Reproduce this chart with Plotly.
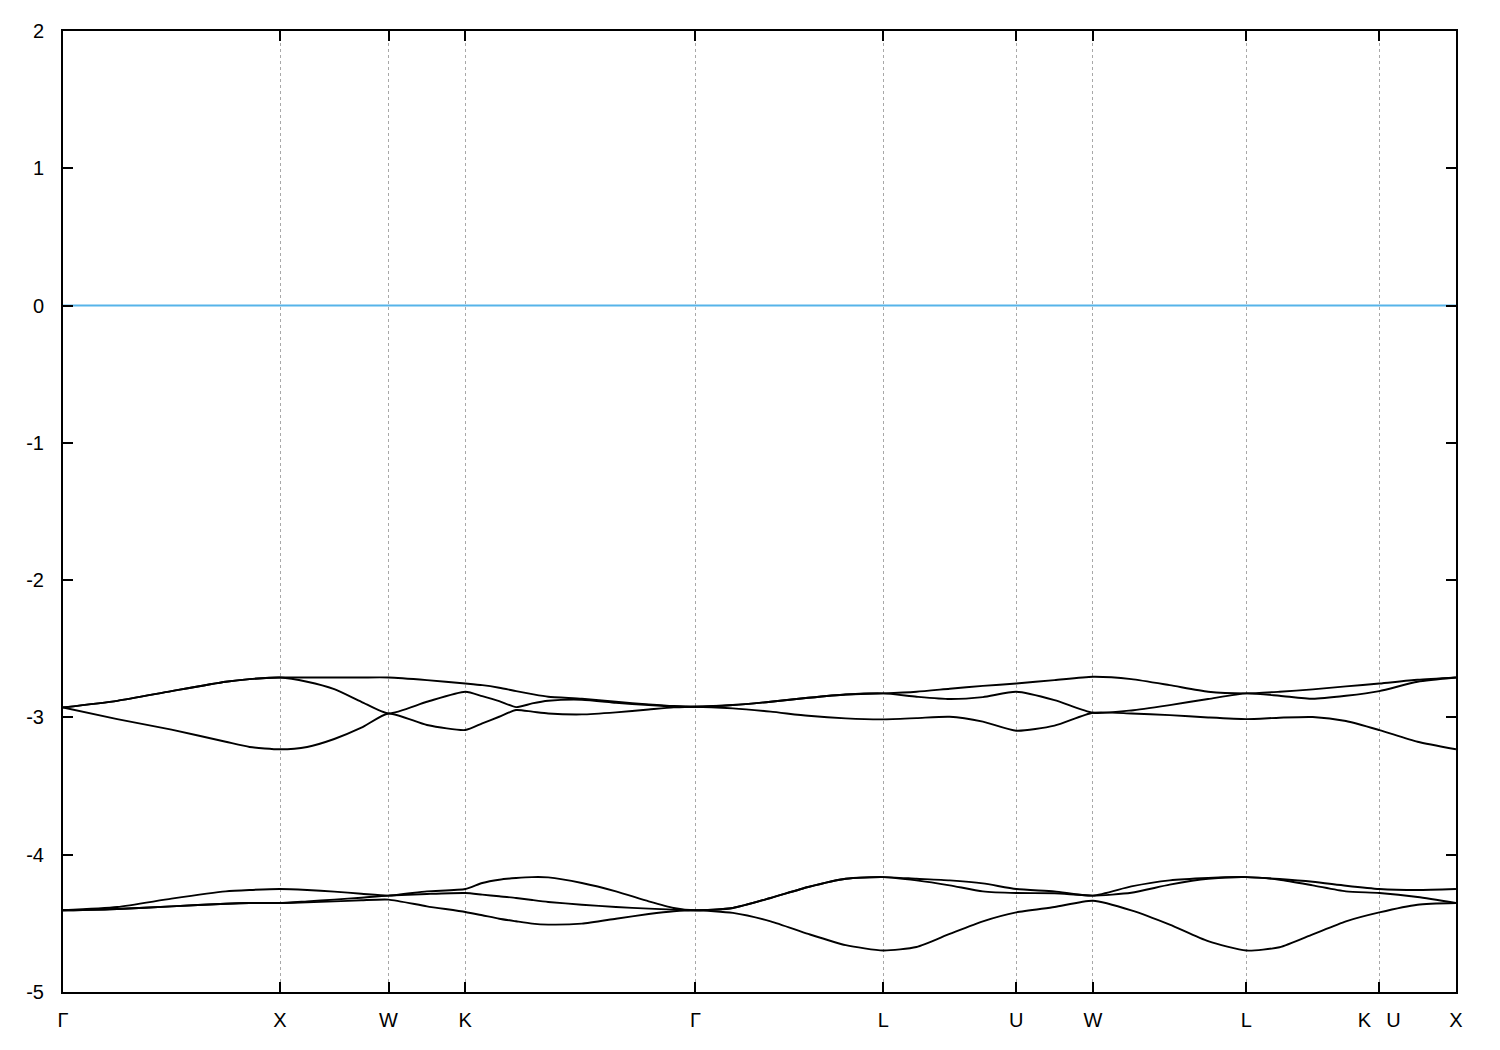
import plotly.graph_objects as go

# High-symmetry points (path coordinate) and labels
TICK_POS = [0.0, 1.0, 1.5, 1.8536, 2.9142, 3.7803, 4.3926, 4.7462, 5.4533, 6.0656, 6.4192]
TICK_LABELS = ["Γ", "X", "W", "K", "Γ", "L", "U", "W", "L", "K\u00a0\u00a0\u2009U", "X"]

# k-path sample points
K = [0.0, 0.25, 0.5, 0.75, 0.86, 1.0,
     1.125, 1.25, 1.375, 1.5,
     1.677, 1.854,
     1.932, 2.010, 2.088, 2.162, 2.236, 2.391, 2.548, 2.699, 2.814, 2.914,
     3.087, 3.261, 3.434, 3.607, 3.780,
     3.933, 4.086, 4.239, 4.393,
     4.569, 4.746,
     4.923, 5.100, 5.277, 5.453,
     5.606, 5.759, 5.912, 6.066,
     6.242, 6.419]

# Upper band group
band_u_top = [-2.927, -2.879, -2.808, -2.740, -2.721, -2.709,
              -2.709, -2.709, -2.709, -2.709,
              -2.728, -2.753,
              -2.765, -2.784, -2.808, -2.830, -2.849, -2.864, -2.886, -2.905, -2.917, -2.922,
              -2.910, -2.886, -2.857, -2.833, -2.825,
              -2.813, -2.791, -2.770, -2.753,
              -2.728, -2.704,
              -2.721, -2.765, -2.813, -2.825,
              -2.813, -2.796, -2.774, -2.753,
              -2.726, -2.709]
band_u_mid = [-2.927, -2.879, -2.808, -2.740, -2.721, -2.709,
              -2.740, -2.794, -2.886, -2.971,
              -2.886, -2.813,
              -2.845, -2.881, -2.925, -2.898, -2.879, -2.871, -2.893, -2.910, -2.920, -2.922,
              -2.910, -2.886, -2.857, -2.833, -2.825,
              -2.849, -2.866, -2.852, -2.813,
              -2.874, -2.966,
              -2.949, -2.910, -2.866, -2.825,
              -2.842, -2.864, -2.842, -2.808,
              -2.740, -2.709]
band_u_bot = [-2.927, -3.012, -3.089, -3.177, -3.215, -3.232,
              -3.215, -3.157, -3.075, -2.971,
              -3.055, -3.092,
              -3.043, -2.995, -2.946, -2.958, -2.971, -2.978, -2.963, -2.942, -2.927, -2.922,
              -2.934, -2.958, -2.988, -3.007, -3.014,
              -3.005, -2.995, -3.031, -3.097,
              -3.060, -2.966,
              -2.971, -2.983, -3.000, -3.012,
              -3.002, -2.997, -3.026, -3.092,
              -3.177, -3.232]

# Lower band group
band_l_top = [-4.405, -4.381, -4.320, -4.267, -4.257, -4.250,
              -4.257, -4.269, -4.284, -4.298,
              -4.267, -4.250,
              -4.206, -4.182, -4.170, -4.163, -4.165, -4.206, -4.267, -4.340, -4.388, -4.405,
              -4.388, -4.315, -4.235, -4.175, -4.163,
              -4.175, -4.187, -4.209, -4.250,
              -4.267, -4.298,
              -4.231, -4.187, -4.170, -4.163,
              -4.177, -4.197, -4.226, -4.250,
              -4.257, -4.250]
band_l_mid = [-4.405, -4.395, -4.376, -4.357, -4.352, -4.352,
              -4.340, -4.327, -4.313, -4.298,
              -4.286, -4.279,
              -4.291, -4.303, -4.315, -4.330, -4.344, -4.364, -4.381, -4.393, -4.400, -4.405,
              -4.388, -4.315, -4.235, -4.175, -4.163,
              -4.187, -4.223, -4.267, -4.279,
              -4.281, -4.298,
              -4.277, -4.218, -4.175, -4.163,
              -4.182, -4.223, -4.267, -4.279,
              -4.308, -4.352]
band_l_bot = [-4.405, -4.395, -4.376, -4.357, -4.352, -4.352,
              -4.347, -4.340, -4.332, -4.327,
              -4.376, -4.417,
              -4.441, -4.466, -4.485, -4.502, -4.509, -4.502, -4.466, -4.432, -4.412, -4.405,
              -4.424, -4.485, -4.577, -4.659, -4.698,
              -4.672, -4.577, -4.485, -4.420,
              -4.381, -4.335,
              -4.405, -4.509, -4.630, -4.698,
              -4.674, -4.580, -4.485, -4.420,
              -4.364, -4.352]

BANDS = [band_u_top, band_u_mid, band_u_bot, band_l_top, band_l_mid, band_l_bot]
FERMI = 0.0
Y_RANGE = [-5, 2]
Y_TICKS = [-5, -4, -3, -2, -1, 0, 1, 2]

FONT = "Liberation Sans, Arial, Helvetica, sans-serif"

fig = go.Figure()

# Fermi level line
fig.add_trace(go.Scatter(x=[TICK_POS[0], TICK_POS[-1]], y=[FERMI, FERMI], mode="lines",
                         line=dict(color="#56B4E9", width=2), showlegend=False,
                         hoverinfo="skip"))

for b in BANDS:
    fig.add_trace(go.Scatter(x=K, y=b, mode="lines",
                             line=dict(color="black", width=1.9, shape="spline", smoothing=0.6),
                             showlegend=False))

fig.update_layout(
    width=1492, height=1042,
    margin=dict(l=55, r=44, t=21, b=58, pad=0),
    paper_bgcolor="white", plot_bgcolor="white",
    font=dict(family=FONT, size=20, color="black"),
    showlegend=False,
)

fig.update_xaxes(
    range=[TICK_POS[0], TICK_POS[-1]],
    tickmode="array", tickvals=TICK_POS, ticktext=TICK_LABELS,
    ticks="inside", ticklen=10, tickwidth=2, tickcolor="black",
    showline=True, linecolor="black", linewidth=2, mirror="ticks",
    showgrid=True, gridcolor="#a8a8a8", gridwidth=1, griddash="3px,3px",
    zeroline=False,
    tickfont=dict(family=FONT, size=20, color="black"),
    ticklabelstandoff=9,
)

fig.update_yaxes(
    range=Y_RANGE,
    tickmode="array", tickvals=Y_TICKS, ticktext=[str(v) for v in Y_TICKS],
    ticks="inside", ticklen=10, tickwidth=2, tickcolor="black",
    showline=True, linecolor="black", linewidth=2, mirror="ticks",
    showgrid=False, zeroline=False,
    tickfont=dict(family=FONT, size=20, color="black"),
    ticklabelstandoff=13,
)

fig.write_html("out.html")
